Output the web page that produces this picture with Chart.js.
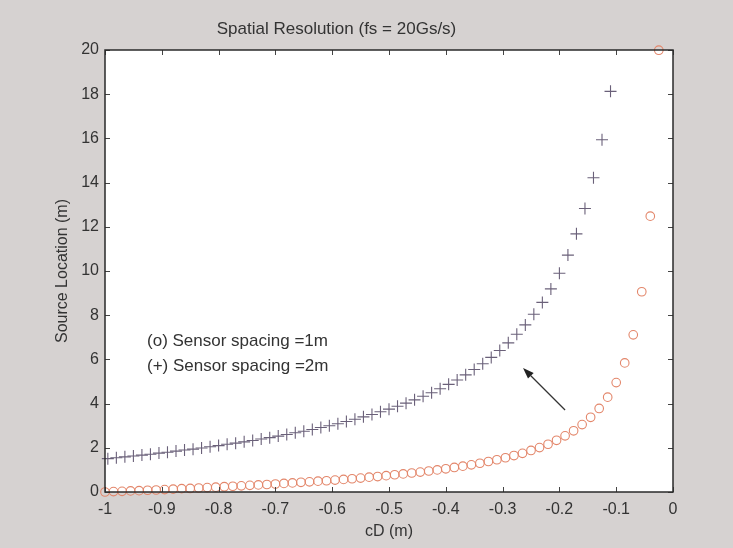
<!DOCTYPE html>
<html>
<head>
<meta charset="utf-8">
<script src="https://cdn.jsdelivr.net/npm/chart.js@4.4.1/dist/chart.umd.min.js"></script>
<style>
  html, body { margin: 0; padding: 0; background: #d6d2d1; }
  #wrap { width: 733px; height: 548px; }
</style>
</head>
<body>
<div id="wrap"><canvas id="chart" width="733" height="548"></canvas></div>
<script>
// (o) sensor spacing 1m : cD (m) and source location (m)
const cdOneMetre = [-1.000, -0.985, -0.970, -0.955, -0.940, -0.925, -0.910, -0.895, -0.880, -0.865,
    -0.850, -0.835, -0.820, -0.805, -0.790, -0.775, -0.760, -0.745, -0.730, -0.715,
    -0.700, -0.685, -0.670, -0.655, -0.640, -0.625, -0.610, -0.595, -0.580, -0.565,
    -0.550, -0.535, -0.520, -0.505, -0.490, -0.475, -0.460, -0.445, -0.430, -0.415,
    -0.400, -0.385, -0.370, -0.355, -0.340, -0.325, -0.310, -0.295, -0.280, -0.265,
    -0.250, -0.235, -0.220, -0.205, -0.190, -0.175, -0.160, -0.145, -0.130, -0.115,
    -0.100, -0.085, -0.070, -0.055, -0.040, -0.025];
const locOneMetre = [0.00, 0.02, 0.03, 0.05, 0.06, 0.08, 0.09, 0.11, 0.13, 0.15,
    0.16, 0.18, 0.20, 0.22, 0.24, 0.26, 0.28, 0.30, 0.32, 0.34,
    0.36, 0.39, 0.41, 0.44, 0.46, 0.49, 0.51, 0.54, 0.57, 0.60,
    0.63, 0.67, 0.70, 0.74, 0.78, 0.82, 0.86, 0.90, 0.95, 1.00,
    1.05, 1.11, 1.17, 1.23, 1.30, 1.38, 1.46, 1.55, 1.65, 1.75,
    1.88, 2.01, 2.16, 2.34, 2.54, 2.77, 3.05, 3.38, 3.78, 4.29,
    4.95, 5.84, 7.11, 9.06, 12.48, 19.99];

// (+) sensor spacing 2m
const cdTwoMetre = [-0.995, -0.980, -0.965, -0.950, -0.935, -0.920, -0.905, -0.890, -0.875, -0.860,
    -0.845, -0.830, -0.815, -0.800, -0.785, -0.770, -0.755, -0.740, -0.725, -0.710,
    -0.695, -0.680, -0.665, -0.650, -0.635, -0.620, -0.605, -0.590, -0.575, -0.560,
    -0.545, -0.530, -0.515, -0.500, -0.485, -0.470, -0.455, -0.440, -0.425, -0.410,
    -0.395, -0.380, -0.365, -0.350, -0.335, -0.320, -0.305, -0.290, -0.275, -0.260,
    -0.245, -0.230, -0.215, -0.200, -0.185, -0.170, -0.155, -0.140, -0.125, -0.110];
const locTwoMetre = [1.51, 1.55, 1.59, 1.63, 1.67, 1.71, 1.76, 1.80, 1.85, 1.90,
    1.94, 1.99, 2.05, 2.10, 2.16, 2.21, 2.27, 2.33, 2.40, 2.46,
    2.53, 2.60, 2.68, 2.75, 2.83, 2.92, 3.00, 3.09, 3.19, 3.29,
    3.40, 3.51, 3.63, 3.75, 3.88, 4.02, 4.17, 4.33, 4.49, 4.67,
    4.87, 5.07, 5.30, 5.54, 5.80, 6.09, 6.40, 6.75, 7.14, 7.56,
    8.04, 8.58, 9.19, 9.90, 10.72, 11.68, 12.83, 14.22, 15.94, 18.13];

// axis ranges
const xRange = [-1, 0];
const xStep = 0.1;
const yRange = [0, 20];
const yStep = 2;

// note text and arrow, in data units
const noteLines = ['(o) Sensor spacing =1m', '(+) Sensor spacing =2m'];
const noteAt = [[-0.926, 6.83], [-0.926, 5.70]];
const arrowFrom = [-0.190, 3.71];
const arrowTo = [-0.264, 5.61];

const FONT = "'Liberation Sans', Arial, sans-serif";
const INK = '#333333';

const toPoints = (xs, ys) => xs.map((x, i) => ({ x: x, y: ys[i] }));

const framePlugin = {
    id: 'frame',
    beforeDraw(chart) {
        const { ctx, chartArea: a } = chart;
        ctx.save();
        ctx.fillStyle = '#d6d2d1';
        ctx.fillRect(0, 0, chart.width, chart.height);
        ctx.fillStyle = '#ffffff';
        ctx.fillRect(a.left, a.top, a.right - a.left, a.bottom - a.top);
        ctx.restore();
    },
    afterDatasetsDraw(chart) {
        const { ctx, chartArea: a } = chart;
        const xs = chart.scales.x, ys = chart.scales.y;
        ctx.save();

        // inward tick marks on all four sides
        ctx.strokeStyle = '#444';
        ctx.lineWidth = 1;
        ctx.beginPath();
        xs.ticks.forEach(t => {
            const px = Math.round(xs.getPixelForValue(t.value)) + 0.5;
            ctx.moveTo(px, a.bottom); ctx.lineTo(px, a.bottom - 5);
            ctx.moveTo(px, a.top); ctx.lineTo(px, a.top + 5);
        });
        ys.ticks.forEach(t => {
            const py = Math.round(ys.getPixelForValue(t.value)) + 0.5;
            ctx.moveTo(a.left, py); ctx.lineTo(a.left + 5, py);
            ctx.moveTo(a.right, py); ctx.lineTo(a.right - 5, py);
        });
        ctx.stroke();

        // box
        ctx.strokeStyle = '#2a2a2a';
        ctx.lineWidth = 1.5;
        ctx.strokeRect(a.left, a.top, a.right - a.left, a.bottom - a.top);

        // note
        ctx.fillStyle = INK;
        ctx.font = '17px ' + FONT;
        ctx.textBaseline = 'middle';
        ctx.textAlign = 'left';
        noteLines.forEach((txt, i) => {
            ctx.fillText(txt, xs.getPixelForValue(noteAt[i][0]), ys.getPixelForValue(noteAt[i][1]));
        });

        // arrow
        const x0 = xs.getPixelForValue(arrowFrom[0]), y0 = ys.getPixelForValue(arrowFrom[1]);
        const x1 = xs.getPixelForValue(arrowTo[0]), y1 = ys.getPixelForValue(arrowTo[1]);
        const ang = Math.atan2(y1 - y0, x1 - x0);
        const headLen = 11, headW = 4;
        ctx.strokeStyle = '#333';
        ctx.lineWidth = 1.2;
        ctx.beginPath();
        ctx.moveTo(x0, y0);
        ctx.lineTo(x1 - headLen * Math.cos(ang), y1 - headLen * Math.sin(ang));
        ctx.stroke();
        ctx.fillStyle = '#222';
        ctx.beginPath();
        ctx.moveTo(x1, y1);
        ctx.lineTo(x1 - headLen * Math.cos(ang) + headW * Math.sin(ang), y1 - headLen * Math.sin(ang) - headW * Math.cos(ang));
        ctx.lineTo(x1 - headLen * Math.cos(ang) - headW * Math.sin(ang), y1 - headLen * Math.sin(ang) + headW * Math.cos(ang));
        ctx.closePath();
        ctx.fill();

        ctx.restore();
    }
};

const ctx = document.getElementById('chart').getContext('2d');

new Chart(ctx, {
    type: 'scatter',
    data: {
        datasets: [
            {
                label: '(o) Sensor spacing =1m',
                data: toPoints(cdOneMetre, locOneMetre),
                pointStyle: 'circle',
                pointRadius: 4.3,
                pointBorderWidth: 1.1,
                borderColor: '#e3866a',
                backgroundColor: 'rgba(0,0,0,0)',
                clip: false
            },
            {
                label: '(+) Sensor spacing =2m',
                data: toPoints(cdTwoMetre, locTwoMetre),
                pointStyle: 'cross',
                pointRadius: 6,
                pointBorderWidth: 1.1,
                borderColor: '#6a6079',
                backgroundColor: '#6a6079',
                clip: false
            }
        ]
    },
    options: {
        responsive: false,
        animation: false,
        devicePixelRatio: 1,
        layout: { padding: { left: 0, right: 60, top: 0, bottom: 0 } },
        plugins: {
            legend: { display: false },
            tooltip: { enabled: false },
            title: {
                display: true,
                text: 'Spatial Resolution (fs = 20Gs/s)',
                color: INK,
                font: { family: FONT, size: 17, weight: 'normal', lineHeight: 1.2 },
                padding: { top: 19.3, bottom: 10.3 }
            }
        },
        scales: {
            x: {
                type: 'linear',
                min: xRange[0],
                max: xRange[1],
                grid: { display: false, drawTicks: false },
                border: { display: false },
                ticks: {
                    stepSize: xStep,
                    color: INK,
                    padding: 8,
                    maxRotation: 0,
                    font: { family: FONT, size: 16 },
                    callback: v => String(Number(v.toFixed(1)))
                },
                title: {
                    display: true,
                    text: 'cD (m)',
                    color: INK,
                    font: { family: FONT, size: 16 },
                    padding: { top: 0, bottom: 7 }
                },
                afterFit: s => { s.height = 56; }
            },
            y: {
                type: 'linear',
                min: yRange[0],
                max: yRange[1],
                grid: { display: false, drawTicks: false },
                border: { display: false },
                ticks: {
                    stepSize: yStep,
                    color: INK,
                    padding: 6,
                    font: { family: FONT, size: 16 }
                },
                title: {
                    display: true,
                    text: 'Source Location (m)',
                    color: INK,
                    font: { family: FONT, size: 16 },
                    padding: { top: 53, bottom: 0 }
                },
                afterFit: s => { s.width = 105; }
            }
        }
    },
    plugins: [framePlugin]
});
</script>
</body>
</html>
